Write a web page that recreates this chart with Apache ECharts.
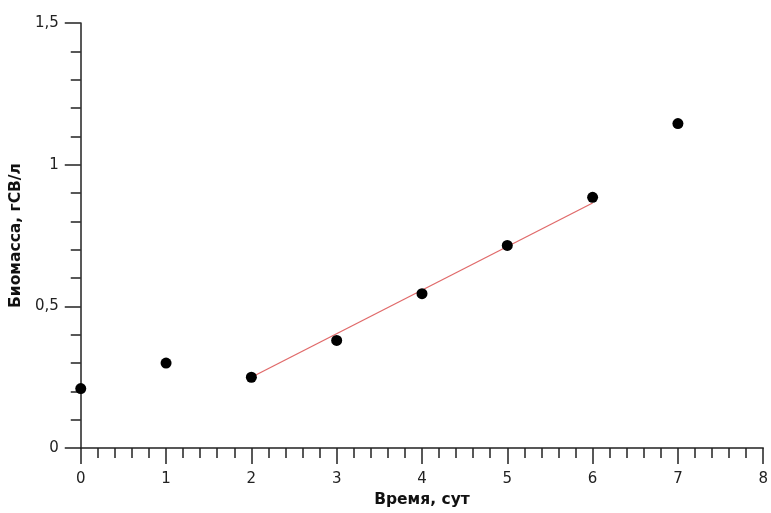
<!DOCTYPE html>
<html>
<head>
<meta charset="utf-8">
<script src="https://cdn.jsdelivr.net/npm/echarts@6/dist/echarts.min.js"></script>
<style>html,body{margin:0;padding:0;background:#fff}#c{width:771px;height:513px}</style>
</head>
<body>
<div id="c"></div>
<script>
const days = [0, 1, 2, 3, 4, 5, 6, 7];
const biomass = [0.21, 0.30, 0.25, 0.38, 0.545, 0.715, 0.885, 1.145];
const fitX = [2, 6];
const fitY = [0.25, 0.865];
const xTitle = 'Время, сут';
const yTitle = 'Биомасса, гСВ/л';

const font = 'DejaVu Sans';
const chart = echarts.init(document.getElementById('c'), null, {renderer: 'canvas'});
function axisBase() {
  return {
    axisLine: {show: true, onZero: false, lineStyle: {color: '#222', width: 1.5}},
    axisTick: {show: true, inside: false, length: 16, lineStyle: {color: '#222', width: 1.5}},
    minorTick: {show: true, splitNumber: 5, length: 10, lineStyle: {color: '#222', width: 1.5}},
    splitLine: {show: false},
    nameLocation: 'middle',
    nameTextStyle: {fontFamily: font, fontWeight: 'bold', fontSize: 15.5, color: '#111'}
  };
}
chart.setOption({
  animation: false,
  backgroundColor: '#fff',
  grid: {left: 79, right: 3, top: 23, bottom: 60, containLabel: false},
  xAxis: Object.assign(axisBase(), {
    type: 'value', min: 0, max: 8, interval: 1,
    name: xTitle, nameGap: 43,
    axisLabel: {fontFamily: font, fontSize: 15, color: '#222', margin: 24,
      formatter: v => String(v).replace('.', ',')}
  }),
  yAxis: Object.assign(axisBase(), {
    type: 'value', min: 0, max: 1.5, interval: 0.5,
    name: yTitle, nameGap: 49,
    axisLabel: {fontFamily: font, fontSize: 15, color: '#222', margin: 22,
      formatter: v => String(v).replace('.', ',')}
  }),
  series: [
    {
      type: 'line',
      data: fitX.map((x, i) => [x, fitY[i]]),
      showSymbol: false,
      symbol: 'none',
      lineStyle: {color: '#e06a6a', width: 1.3},
      z: 2
    },
    {
      type: 'scatter',
      data: days.map((d, i) => [d, biomass[i]]),
      symbol: 'circle',
      symbolSize: 11,
      itemStyle: {color: '#000', opacity: 1},
      z: 3
    }
  ]
});
</script>
</body>
</html>
